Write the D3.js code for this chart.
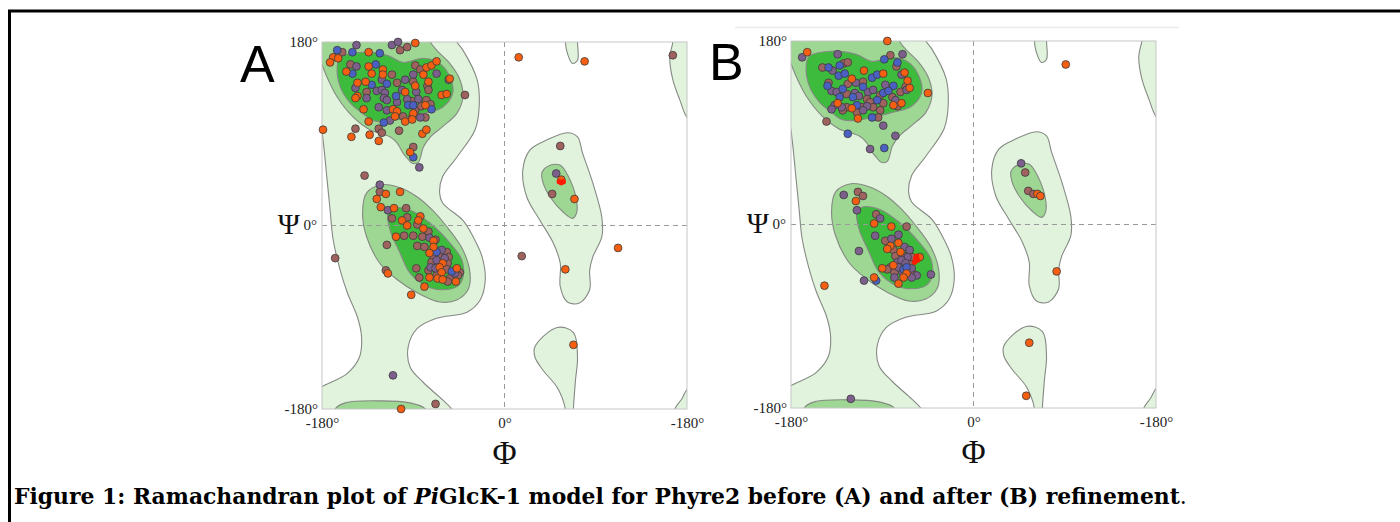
<!DOCTYPE html>
<html><head><meta charset="utf-8">
<script src="https://cdn.jsdelivr.net/npm/d3@7"></script>
<style>html,body{margin:0;padding:0;background:#fff;overflow:hidden}</style>
</head><body>
<svg id="chart" width="1400" height="522"></svg>
<script>
// ---------- axis ticks ----------
const phiTicks = [-180, 0, 180];
const phiTickLabels = ["-180°", "0°", "-180°"];
const psiTicks = [180, -180];
const psiTickLabels = ["180°", "-180°"];
const zeroLabel = "0°";
const phiTitle = "Φ";
const psiTitle = "Ψ";
const panelNames = ["A", "B"];
const captionParts = [
  {t: "Figure 1: Ramachandran plot of ", w: "bold", s: "normal"},
  {t: "Pi", w: "bold", s: "italic"},
  {t: "GlcK-1 model for Phyre2 before (A) and after (B) refinement", w: "bold", s: "normal"},
  {t: ".", w: "normal", s: "normal"}
];

// ---------- reference regions (phi, psi in degrees) ----------
const regionsLight = [
  [[-195,195],[-50,190],[-47,180],[-41,172],[-27,143],[-25,116],[-29,94],[-47,67],[-61,48],[-64,32],[-61,22],[-41,5],[-31,-11],[-22,-31],[-19,-54],[-24,-73],[-37,-85],[-67,-91],[-86,-101],[-95,-119],[-93,-139],[-80,-154],[-61,-171],[-52,-180],[-45,-192],[-195,-195],[-192,-165],[-180,-158],[-155,-145],[-143,-129],[-141,-109],[-145,-90],[-155,-66],[-162,-44],[-169,-14],[-172,15],[-175,45],[-179,84],[-181,96],[-192,110]],
  [[18,54],[25,74],[42,84],[62,91],[72,87],[77,71],[87,42],[96,8],[96,-11],[87,-31],[84,-44],[84,-63],[74,-76],[62,-75],[55,-60],[55,-37],[48,-17],[35,5],[22,28]],
  [[60,192],[60,180],[62,169],[67,159],[72,162],[72,180],[72,192]],
  [[30,-119],[52,-100],[68,-105],[72,-129],[70,-152],[68,-180],[68,-192],[60,-192],[60,-180],[52,-159],[38,-142],[30,-129]],
  [[166,192],[166,180],[163,165],[166,143],[173,123],[180,106],[192,95],[195,195]],
  [[168,-192],[168,-180],[175,-170],[180,-161],[192,-155],[195,-195]]
];
const regionsMedium = [
  [[-195,195],[-75,190],[-73,180],[-67,172],[-54,159],[-44,143],[-41,126],[-47,110],[-61,97],[-73,87],[-80,77],[-85,62],[-91,61],[-96,66],[-100,71],[-106,81],[-113,87],[-133,94],[-149,106],[-165,126],[-177,150],[-181,160],[-192,175]],
  [[-168,-192],[-167,-180],[-157,-174],[-123,-172],[-93,-174],[-78,-180],[-76,-192]],
  [[-121,40],[-136,32],[-140,12],[-136,-11],[-123,-37],[-106,-53],[-86,-66],[-64,-75],[-47,-73],[-36,-63],[-34,-47],[-41,-24],[-57,-1],[-71,15],[-86,28],[-103,37]],
  [[37,52],[45,59],[55,59],[63,48],[71,25],[71,12],[67,7],[58,13],[45,28],[38,42]]
];
const regionsDark = [
  [[-162,165],[-140,170],[-116,167],[-100,160],[-80,164],[-64,159],[-54,146],[-51,130],[-61,116],[-80,110],[-100,105],[-116,102],[-130,103],[-140,110],[-152,120],[-162,136],[-165,156]],
  [[-115,12],[-110,17],[-93,15],[-73,2],[-54,-17],[-42,-34],[-41,-51],[-47,-60],[-61,-63],[-76,-60],[-93,-47],[-103,-27],[-113,-4]]
];

// ---------- residues, panel A (before refinement) ----------
const aOrange = [[-169,165],[-164,164],[-172,160],[-134,170],[-88,179],[-134,156],[-120,153],[-120,148],[-77,155],[-72,157],[-67,161],[-156,151],[-131,149],[-145,140],[-137,141],[-80,148],[-75,141],[-54,144],[-98,131],[-88,137],[-145,127],[-147,125],[-78,118],[-62,128],[-57,129],[-139,114],[-110,114],[-106,112],[-108,107],[-91,106],[-90,110],[-134,102],[-98,102],[-91,104],[-179,94],[-151,87],[-133,89],[-124,83],[-81,90],[-77,94],[-93,72],
  [-117,31],[-103,33],[-126,26],[-122,18],[-109,17],[-101,5],[-83,9],[-85,5],[-96,0],[-80,-3],[-107,-11],[-70,-15],[-70,-21],[-74,-27],[-61,-37],[-64,-41],[-47,-42],[-74,-51],[-62,-46],[-66,-52],[-61,-53],[-48,-55],[-79,-60],[-115,-47],[-92,-68],
  [-102,-180],[68,-117],[14,165],[79,161],[56,45],[69,26],[112,-22],[60,-43]];
const aBrown = [[-160,170],[-103,172],[-96,175],[-152,158],[-111,148],[-88,157],[-83,153],[-106,140],[-90,141],[-76,137],[-75,133],[-136,131],[-91,122],[-77,123],[-73,119],[-39,128],[-88,113],[-82,117],[-100,107],[-78,106],[-147,95],[-124,95],[-121,91],[-104,93],[-90,77],[-138,49],
  [-123,33],[-97,17],[-111,7],[-96,8],[-86,1],[-75,-6],[-99,-10],[-90,-10],[-81,-11],[-68,-14],[-86,-20],[-79,-21],[-57,-26],[-70,-31],[-64,-30],[-55,-31],[-72,-36],[-56,-37],[-57,-43],[-44,-46],[-46,-49],[-75,-44],[-67,-49],[-54,-52],[-56,-55],[-87,-42],[-84,-51],[-116,-19],[-117,-44],[-167,-32],
  [-68,-175],[166,167],[55,78],[47,31],[17,-30]];
const aPurple = [[-146,177],[-111,177],[-105,180],[-146,156],[-147,135],[-121,143],[-98,143],[-90,148],[-67,149],[-55,143],[-101,133],[-87,131],[-126,132],[-121,133],[-118,130],[-136,125],[-119,125],[-116,123],[-96,124],[-85,124],[-124,116],[-116,113],[-106,121],[-83,106],[-113,103],[-84,57],
  [-123,40],[-115,15],[-74,-12],[-62,-24],[-59,-32],[-67,-34],[-73,-41],[-68,-42],[-49,-47],
  [-110,-147],[51,51]];
const aBlue = [[-165,172],[-150,170],[-123,169],[-127,158],[-150,149],[-131,138],[-116,139],[-107,127],[-95,118],[-90,118],[-72,114],[-119,101],[-90,67],
  [-67,-26],[-52,-45]];
const aRed = [[54,43],[56,42],[58,43]];

// ---------- residues, panel B (after refinement) ----------
const bOrange = [[-85,180],[-164,169],[-120,143],[-108,151],[-89,148],[-68,149],[-65,141],[-63,134],[-71,119],[-79,117],[-134,119],[-120,114],[-114,104],[-45,129],
  [-116,23],[-98,1],[-81,-2],[-74,-18],[-82,-21],[-85,-24],[-72,-27],[-53,-32],[-79,-40],[-90,-43],[-66,-48],[-69,-52],[-98,-52],[-74,-58],[-147,-60],
  [55,-116],[52,-168],[91,157],[63,30],[66,28],[82,-46]];
const bBrown = [[-149,154],[-128,158],[-124,159],[-109,140],[-82,166],[-76,155],[-67,135],[-72,130],[-143,139],[-124,138],[-92,127],[-80,125],[-75,116],[-125,128],[-105,123],[-102,120],[-89,119],[-125,115],[-110,115],[-99,115],[-92,112],[-115,110],[-129,112],[-94,105],[-145,101],
  [-114,32],[-109,28],[-96,10],[-66,-2],[-87,-16],[-79,-25],[-77,-31],[-70,-30],[-61,-32],[-63,-39],[-82,-42],[-85,-44],[-78,-47],[-60,-48],
  [51,51],[54,33],[59,30]];
const bPurple = [[-169,164],[-134,167],[-139,151],[-116,139],[-70,167],[-71,147],[-66,132],[-87,137],[-140,131],[-135,130],[-117,129],[-104,130],[-99,132],[-77,122],[-113,126],[-137,117],[-130,115],[-105,116],[-109,112],[-140,113],[-89,97],[-77,87],[-102,74],
  [-128,29],[-115,14],[-92,6],[-97,-11],[-81,-14],[-74,-10],[-68,-22],[-63,-25],[-65,-32],[-75,-37],[-71,-35],[-67,-38],[-74,-42],[-61,-43],[-70,-47],[-56,-50],[-61,-52],[-78,-52],[-42,-49],[-113,-26],[-108,-55],
  [-121,-171],[47,60]];
const bBlue = [[-143,154],[-132,156],[-133,146],[-127,148],[-100,144],[-95,147],[-88,162],[-75,159],[-79,136],[-144,136],[-129,133],[-109,135],[-89,129],[-84,131],[-132,125],[-119,125],[-95,122],[-115,117],[-100,105],[-124,89],[-88,75],
  [-69,-44],[-66,-42],[-96,-55]];
const bRed = [[-57,-33],[-58,-37],[-55,-35],[-56,-31]];

// ---------- drawing ----------
const svg = d3.select("#chart");
const serif = "'Liberation Serif','Times New Roman',serif";

// outer frame of the figure
svg.append("path").attr("d", "M9.5,540 L9.5,11 L1420,11")
  .attr("fill", "none").attr("stroke", "#000").attr("stroke-width", 3);
// faint line above panel B
svg.append("line").attr("x1", 735).attr("x2", 1179).attr("y1", 27.5).attr("y2", 27.5)
  .attr("stroke", "#ebebeb").attr("stroke-width", 1.5);

const panels = [
  {name: panelNames[0], x0: 322, x1: 687, y0: 42, y1: 409, lx: 240, ly: 82,
   series: [["#a0625e", aBrown], ["#7d5f8e", aPurple], ["#4a60c4", aBlue], ["#f65f12", aOrange]], red: aRed},
  {name: panelNames[1], x0: 791, x1: 1156, y0: 41, y1: 408, lx: 709, ly: 80,
   series: [["#a0625e", bBrown], ["#7d5f8e", bPurple], ["#4a60c4", bBlue], ["#f65f12", bOrange]], red: bRed}
];

panels.forEach((p, pi) => {
  const x = d3.scaleLinear().domain([-180, 180]).range([p.x0, p.x1]);
  const y = d3.scaleLinear().domain([-180, 180]).range([p.y1, p.y0]);
  const g = svg.append("g");
  const clipId = "clip" + pi;
  svg.append("clipPath").attr("id", clipId).append("rect")
    .attr("x", p.x0).attr("y", p.y0).attr("width", p.x1 - p.x0).attr("height", p.y1 - p.y0);

  const area = g.append("g").attr("clip-path", `url(#${clipId})`);
  area.append("rect").attr("x", p.x0).attr("y", p.y0).attr("width", p.x1 - p.x0).attr("height", p.y1 - p.y0).attr("fill", "#fff");
  const line = d3.line().x(d => x(d[0])).y(d => y(d[1])).curve(d3.curveCatmullRomClosed.alpha(0.5));
  const levels = [[regionsLight, "#e1f3dc"], [regionsMedium, "#9ed793"], [regionsDark, "#3dbb3d"]];
  levels.forEach(([regs, col]) => {
    area.selectAll(null).data(regs).enter().append("path")
      .attr("d", line).attr("fill", col).attr("stroke", "#858a84").attr("stroke-width", 1.1);
  });
  // zero lines
  area.append("line").attr("x1", x(0)).attr("x2", x(0)).attr("y1", p.y0).attr("y2", p.y1)
    .attr("stroke", "#999").attr("stroke-dasharray", "5,4").attr("stroke-width", 1);
  area.append("line").attr("x1", p.x0).attr("x2", p.x1).attr("y1", y(0)).attr("y2", y(0))
    .attr("stroke", "#999").attr("stroke-dasharray", "5,4").attr("stroke-width", 1);

  // frame
  g.append("rect").attr("x", p.x0).attr("y", p.y0).attr("width", p.x1 - p.x0).attr("height", p.y1 - p.y0)
    .attr("fill", "none").attr("stroke", "#c6c6c6").attr("stroke-width", 1);

  // points
  const pts = g.append("g");
  p.series.forEach(([col, arr]) => {
    pts.selectAll(null).data(arr).enter().append("circle")
      .attr("cx", d => x(d[0])).attr("cy", d => y(d[1])).attr("r", 3.9)
      .attr("fill", col).attr("stroke", "#3b3b3b").attr("stroke-width", 0.8);
  });
  pts.selectAll(null).data(p.red).enter().append("circle")
    .attr("cx", d => x(d[0])).attr("cy", d => y(d[1])).attr("r", 2.6).attr("fill", "#ff1a00");

  // axes
  const xAxis = g.append("g").attr("transform", `translate(0,${p.y1})`)
    .call(d3.axisBottom(x).tickValues(phiTicks).tickFormat((d, i) => phiTickLabels[i]).tickSize(0).tickPadding(8));
  xAxis.select(".domain").remove();
  xAxis.selectAll("text").attr("font-family", serif).attr("font-size", 15).attr("fill", "#222");
  const yAxis = g.append("g").attr("transform", `translate(${p.x0},0)`)
    .call(d3.axisLeft(y).tickValues(psiTicks).tickFormat((d, i) => psiTickLabels[i]).tickSize(0).tickPadding(4));
  yAxis.select(".domain").remove();
  yAxis.selectAll("text").attr("font-family", serif).attr("font-size", 15).attr("fill", "#222");

  g.append("text").attr("x", p.x0 - 5).attr("y", y(0)).attr("dy", "0.32em").attr("text-anchor", "end")
    .attr("font-family", serif).attr("font-size", 15).attr("fill", "#222").text(zeroLabel);
  g.append("text").attr("x", p.x0 - 22).attr("y", y(0) + 8).attr("text-anchor", "end")
    .attr("font-family", serif).attr("font-size", 30).attr("fill", "#111").text(psiTitle);
  g.append("text").attr("x", x(0)).attr("y", p.y1 + 55).attr("text-anchor", "middle")
    .attr("font-family", serif).attr("font-size", 33).attr("fill", "#111").text(phiTitle);

  g.append("text").attr("x", p.lx).attr("y", p.ly)
    .attr("font-family", "'Liberation Sans',Arial,sans-serif").attr("font-size", 52).attr("fill", "#000").text(p.name);
});

// caption
const cap = svg.append("text").attr("x", 14).attr("y", 504)
  .attr("font-family", "'DejaVu Serif',Georgia,serif").attr("font-size", 18).attr("fill", "#000");
captionParts.forEach(c => cap.append("tspan").attr("font-weight", c.w).attr("font-style", c.s).text(c.t));
const len = cap.node().getComputedTextLength();
cap.attr("font-size", 18 * 1173 / len);
</script>
</body></html>
